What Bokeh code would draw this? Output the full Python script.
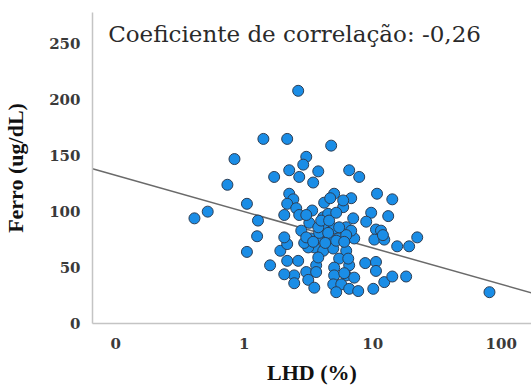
from bokeh.plotting import figure
from bokeh.models import ColumnDataSource, FixedTicker, Label, Range1d
from bokeh.embed import file_html
from bokeh.resources import INLINE
import numpy as np

# LHD (%) and serum iron (ug/dL) per patient
lhd = [0.41, 0.52, 0.74, 0.84, 1.05, 1.28, 1.26, 1.05, 1.59, 1.41,
       1.71, 2.16, 2.63, 4.75, 3.04, 2.88, 2.24, 3.77, 2.68, 3.44,
       6.56, 7.85, 2.24, 2.41, 2.16, 2.54, 2.05, 2.68, 3.38, 4.19,
       5.01, 4.67, 5.89, 6.80, 5.89, 10.8, 14.2, 9.73, 8.90, 13.2,
       7.05, 4.12, 4.50, 3.21, 4.12, 5.01, 6.22, 10.6, 11.6, 2.78,
       3.32, 3.83, 4.50, 5.39, 6.22, 7.18, 6.80, 10.3, 12.3, 15.5,
       19.2, 22.2, 3.51, 4.12, 4.93, 6.22, 5.48, 2.63, 2.16, 3.63,
       5.01, 6.56, 8.74, 10.6, 10.6, 3.04, 3.63, 2.45, 2.05, 5.01,
       6.22, 7.18, 3.15, 3.51, 4.93, 5.69, 5.20, 6.56, 7.71, 10.1,
       12.3, 14.2, 18.2, 81.0, 2.45, 1.91, 2.16, 2.05, 3.15, 3.77,
       6.45, 2.93, 6.22, 3.83, 4.50, 3.77, 5.48, 12.0, 6.00, 3.04,
       3.44, 4.27, 5.20, 6.00, 3.97, 4.58, 5.20, 3.04]
ferro = [94, 100, 124, 147, 107, 92, 78, 64, 52, 165,
         131, 165, 208, 159, 149, 142, 137, 136, 131, 126,
         137, 131, 116, 111, 107, 103, 97, 97, 101, 108,
         116, 112, 104, 112, 110, 116, 111, 99, 91, 96,
         94, 95, 98, 90, 86, 85, 86, 84, 83, 83,
         76, 76, 75, 76, 76, 76, 83, 75, 75, 69,
         69, 77, 68, 65, 67, 65, 58, 56, 56, 52,
         50, 52, 54, 55, 47, 46, 46, 43, 44, 43,
         43, 41, 39, 32, 35, 35, 28, 31, 29, 31,
         37, 42, 42, 28, 36, 65, 71, 77, 68, 59,
         58, 72, 79, 81, 81, 86, 86, 79, 45, 77,
         73, 72, 74, 73, 92, 92, 99, 97]

# Fitted line: ferro = intercept + slope * log10(LHD)
fit_intercept = 100.0
fit_slope = -32.5

x_ticks = [0.1, 1, 10, 100]
x_tick_labels = ["0", "1", "10", "100"]
y_ticks = [0, 50, 100, 150, 200, 250]

x_lo, x_hi = 0.066, 172.0

p = figure(width=531, height=387, x_axis_type="log",
           x_range=Range1d(x_lo, x_hi), y_range=Range1d(0, 278),
           output_backend="svg", toolbar_location=None,
           min_border_left=91, min_border_right=0,
           min_border_top=12, min_border_bottom=64)
p.outline_line_color = None
p.xgrid.visible = False
p.ygrid.visible = False
p.background_fill_color = "white"
p.border_fill_color = "white"

fit_x = [x_lo, x_hi]
fit_y = [fit_intercept + fit_slope * np.log10(v) for v in fit_x]
p.line(fit_x, fit_y, line_color="#6a6a6a", line_width=1.5)

src = ColumnDataSource(dict(lhd=lhd, ferro=ferro))
p.scatter("lhd", "ferro", source=src, marker="circle", size=11,
          fill_color="#1a8de6", line_color="#2c3e55", line_width=1)

for ax in (p.xaxis[0], p.yaxis[0]):
    ax.axis_line_color = "#c4c4c4"
    ax.axis_line_width = 1.5
    ax.major_tick_line_color = None
    ax.minor_tick_line_color = None
    ax.major_label_text_font = "DejaVu Serif"
    ax.major_label_text_font_style = "bold"
    ax.major_label_text_font_size = "15px"
    ax.major_label_text_color = "#3a3a3a"
    ax.axis_label_text_font = "Liberation Serif"
    ax.axis_label_text_font_style = "bold"
    ax.axis_label_text_font_size = "22px"
    ax.axis_label_text_color = "#111111"

p.xaxis.ticker = FixedTicker(ticks=x_ticks)
p.xaxis.major_label_overrides = {t: s for t, s in zip(x_ticks, x_tick_labels)}
p.xaxis.major_label_standoff = 8
p.xaxis.axis_label = "LHD (%)"
p.xaxis.axis_label_standoff = 8

p.yaxis.ticker = FixedTicker(ticks=y_ticks)
p.yaxis.major_label_standoff = 6
p.yaxis.axis_label = "Ferro (ug/dL)"
p.yaxis.axis_label_standoff = 18

p.add_layout(Label(x=0.0874, y=259, text="Coeficiente de correlação: -0,26",
                   text_font="DejaVu Serif", text_font_size="23px",
                   text_color="#2a2a2a", text_baseline="alphabetic"))

open("out.html", "w").write(file_html(p, INLINE))
